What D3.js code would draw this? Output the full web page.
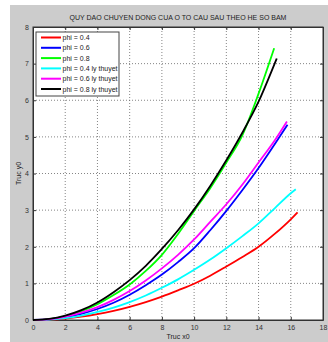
<!DOCTYPE html>
<html>
<head>
<meta charset="utf-8">
<script src="https://cdn.jsdelivr.net/npm/d3@7"></script>
<style>
  html, body { margin: 0; padding: 0; background: #fff; }
  text { font-family: "Liberation Sans", Arial, sans-serif; }
</style>
</head>
<body>
<div id="chart"></div>
<script>
const TITLE = 'QUY DAO CHUYEN DONG CUA O TO CAU SAU THEO HE SO BAM';
const X_TITLE = 'Truc x0';
const Y_TITLE = 'Truc y0';

const xTicks = [0, 2, 4, 6, 8, 10, 12, 14, 16, 18];
const yTicks = [0, 1, 2, 3, 4, 5, 6, 7, 8];

const seriesNames = ['phi = 0.4', 'phi = 0.6', 'phi = 0.8',
  'phi = 0.4 ly thuyet', 'phi = 0.6 ly thuyet', 'phi = 0.8 ly thuyet'];
const seriesColors = ['#ff0000', '#0000ff', '#00ff00', '#00ffff', '#ff00ff', '#000000'];

const redX = [0, 1, 2, 3, 4, 5, 6, 7, 8, 9, 10, 11, 12, 13, 14, 15, 16, 16.42];
const redY = [0, 0.01, 0.04, 0.09, 0.16, 0.25, 0.36, 0.49, 0.64, 0.81, 0.99, 1.21, 1.46, 1.72, 2.0, 2.35, 2.75, 2.94];

const blueX = [0, 1, 2, 3, 4, 5, 6, 7, 8, 9, 10, 11, 12, 13, 14, 15, 15.8];
const blueY = [0, 0.02, 0.08, 0.17, 0.3, 0.47, 0.69, 0.95, 1.24, 1.58, 1.96, 2.45, 2.98, 3.55, 4.15, 4.8, 5.33];

const greenX = [0, 1, 2, 3, 4, 5, 6, 7, 8, 9, 10, 11, 12, 13, 14, 14.97];
const greenY = [0, 0.02, 0.1, 0.24, 0.43, 0.68, 0.97, 1.34, 1.78, 2.35, 2.98, 3.6, 4.3, 5.05, 6.18, 7.42];

const cyanX = [0, 1, 2, 3, 4, 5, 6, 7, 8, 9, 10, 11, 12, 13, 14, 15, 16, 16.31];
const cyanY = [0, 0.01, 0.05, 0.12, 0.22, 0.34, 0.49, 0.67, 0.88, 1.11, 1.37, 1.65, 1.96, 2.29, 2.64, 3.05, 3.46, 3.57];

const magentaX = [0, 1, 2, 3, 4, 5, 6, 7, 8, 9, 10, 11, 12, 13, 14, 15, 15.76];
const magentaY = [0, 0.02, 0.09, 0.2, 0.35, 0.55, 0.79, 1.08, 1.41, 1.78, 2.2, 2.68, 3.16, 3.7, 4.3, 4.9, 5.42];

const blackX = [0, 1, 2, 3, 4, 5, 6, 7, 8, 9, 10, 11, 12, 13, 14, 15, 15.13];
const blackY = [0, 0.03, 0.12, 0.27, 0.48, 0.76, 1.09, 1.48, 1.94, 2.45, 3.02, 3.66, 4.36, 5.12, 5.96, 7.0, 7.14];

const width = 328;
const height = 342;
const margin = { left: 33, top: 27, right: 5, bottom: 22 };

const svg = d3.select('#chart')
  .append('svg')
  .attr('width', width)
  .attr('height', height);

// grey figure background
svg.append('rect')
  .attr('x', 10).attr('y', 5)
  .attr('width', width - 10).attr('height', height - 5)
  .attr('fill', '#cccccc');

const x = d3.scaleLinear()
  .domain([0, 18])
  .range([margin.left, width - margin.right]);

const y = d3.scaleLinear()
  .domain([0, 8])
  .range([height - margin.bottom, margin.top]);

svg.append('rect')
  .attr('x', x(0)).attr('y', y(8))
  .attr('width', x(18) - x(0)).attr('height', y(0) - y(8))
  .attr('fill', '#fff');

// dotted grid
const grid = svg.append('g')
  .attr('stroke', '#666')
  .attr('stroke-width', 0.8)
  .attr('stroke-dasharray', '1,2');

grid.selectAll('line.gx')
  .data(xTicks.slice(1, -1))
  .enter()
    .append('line')
    .attr('x1', (d) => x(d)).attr('x2', (d) => x(d))
    .attr('y1', y(0)).attr('y2', y(8));

grid.selectAll('line.gy')
  .data(yTicks.slice(1, -1))
  .enter()
    .append('line')
    .attr('x1', x(0)).attr('x2', x(18))
    .attr('y1', (d) => y(d)).attr('y2', (d) => y(d));

// axes, ticks pointing inward
const xAxis = d3.axisBottom(x).tickValues(xTicks).tickSize(-3).tickPadding(5).tickSizeOuter(0);
const yAxis = d3.axisLeft(y).tickValues(yTicks).tickSize(-3).tickPadding(4).tickSizeOuter(0);
const xAxisTop = d3.axisTop(x).tickValues(xTicks).tickSize(-3).tickFormat('').tickSizeOuter(0);
const yAxisRight = d3.axisRight(y).tickValues(yTicks).tickSize(-3).tickFormat('').tickSizeOuter(0);

const axes = [
  [xAxis, `translate(0,${y(0)})`],
  [yAxis, `translate(${x(0)},0)`],
  [xAxisTop, `translate(0,${y(8)})`],
  [yAxisRight, `translate(${x(18)},0)`],
];
for (const [axis, tr] of axes) {
  const g = svg.append('g')
    .attr('transform', tr)
    .call(axis);
  g.selectAll('path, line').attr('stroke', '#333');
  g.selectAll('text')
    .attr('font-size', 7)
    .attr('fill', '#333')
    .style('font-family', '"Liberation Sans", Arial, sans-serif');
}

// frame
svg.append('rect')
  .attr('x', x(0)).attr('y', y(8))
  .attr('width', x(18) - x(0)).attr('height', y(0) - y(8))
  .attr('fill', 'none')
  .attr('stroke', '#333')
  .attr('stroke-width', 1);

// curves
const seriesX = [redX, blueX, greenX, cyanX, magentaX, blackX];
const seriesY = [redY, blueY, greenY, cyanY, magentaY, blackY];
const rows = seriesNames.map((title, index) => {
  return {
    title,
    index,
    points: seriesX[index].map((v, i) => [v, seriesY[index][i]]),
  };
});

const line = d3.line()
  .curve(d3.curveMonotoneX)
  .x((d) => x(d[0]))
  .y((d) => y(d[1]));

svg.append('g')
  .selectAll('path')
  .data(rows)
  .enter()
    .append('path')
    .attr('fill', 'none')
    .attr('stroke-width', 1.8)
    .attr('stroke', (d) => seriesColors[d.index])
    .attr('d', (d) => line(d.points));

// titles
const xMiddle = (x(0) + x(18)) / 2;

svg.append('text')
  .attr('x', xMiddle)
  .attr('y', 20)
  .attr('text-anchor', 'middle')
  .attr('font-size', 7)
  .attr('fill', '#222')
  .text(TITLE);

svg.append('text')
  .attr('x', xMiddle)
  .attr('y', 339)
  .attr('text-anchor', 'middle')
  .attr('font-size', 7)
  .attr('fill', '#222')
  .text(X_TITLE);

svg.append('text')
  .attr('text-anchor', 'middle')
  .attr('font-size', 7)
  .attr('fill', '#222')
  .attr('transform', `translate(21,${(y(0) + y(8)) / 2}) rotate(-90)`)
  .text(Y_TITLE);

// Legend
const LEGEND_ROW = 10.3;
const legend = svg.append('g')
  .attr('transform', 'translate(36,32)');

legend.append('rect')
  .attr('width', 83)
  .attr('height', 64)
  .attr('fill', '#fff')
  .attr('stroke', '#444')
  .attr('stroke-width', 1);

const legendCell = legend.selectAll('g')
  .data(rows)
  .enter()
    .append('g')
    .attr('transform', (d) => `translate(0,${5.5 + d.index * LEGEND_ROW})`);

legendCell.append('line')
  .attr('x1', 5).attr('x2', 25)
  .attr('stroke-width', 2)
  .attr('stroke', (d) => seriesColors[d.index]);

legendCell.append('text')
  .attr('x', 26.5)
  .attr('y', 2.5)
  .attr('font-size', 7)
  .attr('fill', '#222')
  .text((d) => d.title);
</script>
</body>
</html>
